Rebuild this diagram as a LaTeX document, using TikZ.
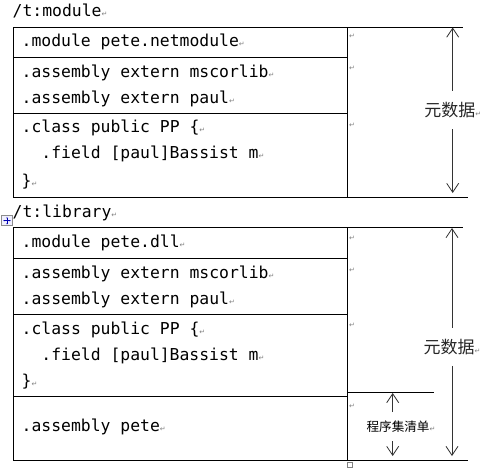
\documentclass[tikz,border=0pt]{standalone}
\usepackage{fontspec}
\setmonofont{DejaVu Sans Mono}
\newfontfamily\cjk{Noto Sans CJK SC}
\newfontfamily\symfont{DejaVu Sans}
\usetikzlibrary{arrows.meta}
\newcommand{\pmark}{{\symfont\fontsize{7}{7}\selectfont\textcolor{gray}{↵}}}

\begin{document}
\begin{tikzpicture}[x=1pt, y=-1pt,
    code/.style={anchor=base west, inner sep=0pt, font=\ttfamily\fontsize{16.4}{20}\selectfont},
    retmark/.style={anchor=west, inner sep=0pt},
    grid/.style={line width=1pt},
    span/.style={draw=black!80, line width=0.8pt, -{Straight Barb[length=9pt,width=12pt]}},
    meta/.style={font=\cjk\fontsize{17}{17}\selectfont, text=black!85, inner xsep=0pt, inner ysep=11pt},
    mani/.style={font=\cjk\fontsize{12.6}{12.6}\selectfont, inner xsep=0pt, inner ysep=8.5pt}]
    \useasboundingbox (0,0) rectangle (493,472);

    % /t:module table
    \node[code] (head1) at (12.5,16.7) {/t:module\pmark};
    \draw[grid] (13,27) rectangle (347,197);
    \draw[grid] (13,57) -- (347,57);
    \draw[grid] (13,113) -- (347,113);
    \draw[grid] (347,27) -- (463,27);
    \draw[grid] (347,197) -- (468,197);
    \node[code] (mod1) at (21.5,46.7) {.module pete.netmodule\pmark};
    \node[code] (ext1a) at (21.5,77.3) {.assembly extern mscorlib\pmark};
    \node[code] (ext1b) at (21.5,103.3) {.assembly extern paul\pmark};
    \node[code] (cls1) at (21.5,132.7) {.class public PP \{\pmark};
    \node[code] (fld1) at (41.2,158.3) {.field [paul]Bassist m\pmark};
    \node[code] (brc1) at (21.5,186) {\}\pmark};
    \node[retmark] (r1a) at (349,36) {\pmark};
    \node[retmark] (r1b) at (349,68.5) {\pmark};
    \node[retmark] (r1c) at (349,125) {\pmark};

    % Metadata span (module)
    \coordinate (top1) at (452.7,27.5);
    \coordinate (bot1) at (452.7,193);
    \node[meta] (meta1) at (452.7,110) {元数据\pmark};
    \draw[span] (meta1.north -| top1) -- (top1);
    \draw[span] (meta1.south -| bot1) -- (bot1);

    % /t:library table
    \draw[draw=black!45, fill=blue!6, line width=0.5pt] (1.7,215.7) rectangle (12.3,225.7);
    \draw[blue!70!black, line width=0.6pt, {Stealth[length=1.5pt]}-{Stealth[length=1.5pt]}] (3.2,220.7) -- (10.8,220.7);
    \draw[blue!70!black, line width=0.6pt, {Stealth[length=1.5pt]}-{Stealth[length=1.5pt]}] (7,216.9) -- (7,224.5);
    \node[code] (head2) at (12.5,217.3) {/t:library\pmark};
    \draw[grid] (13,227.3) rectangle (347,460.5);
    \draw[grid] (13,258.3) -- (347,258.3);
    \draw[grid] (13,314) -- (347,314);
    \draw[grid] (13,396.3) -- (347,396.3);
    \draw[grid] (347,227.3) -- (463,227.3);
    \draw[grid] (347,392.3) -- (434.3,392.3);
    \draw[grid] (347,460.5) -- (468,460.5);
    \draw[draw=black!50, fill=white, line width=0.5pt] (347.5,462.5) rectangle (352.5,467.5);
    \node[code] (mod2) at (21.5,247.3) {.module pete.dll\pmark};
    \node[code] (ext2a) at (21.5,278.3) {.assembly extern mscorlib\pmark};
    \node[code] (ext2b) at (21.5,304.3) {.assembly extern paul\pmark};
    \node[code] (cls2) at (21.5,334.3) {.class public PP \{\pmark};
    \node[code] (fld2) at (41.2,360) {.field [paul]Bassist m\pmark};
    \node[code] (brc2) at (21.5,386) {\}\pmark};
    \node[code] (asm2) at (21.5,431.7) {.assembly pete\pmark};
    \node[retmark] (r2a) at (349,238.3) {\pmark};
    \node[retmark] (r2b) at (349,270) {\pmark};
    \node[retmark] (r2c) at (349,325) {\pmark};
    \node[retmark] (r2d) at (349,406.7) {\pmark};

    % Metadata span (library)
    \coordinate (top2) at (452,228);
    \coordinate (bot2) at (452,456);
    \node[meta] (meta2) at (452,346.7) {元数据\pmark};
    \draw[span] (meta2.north -| top2) -- (top2);
    \draw[span] (meta2.south -| bot2) -- (bot2);

    % Manifest span
    \coordinate (top3) at (392.7,393);
    \coordinate (bot3) at (392.7,456);
    \node[mani] (mani) at (401,426.7) {程序集清单\pmark};
    \draw[span] (mani.north -| top3) -- (top3);
    \draw[span] (mani.south -| bot3) -- (bot3);
\end{tikzpicture}
\end{document}
